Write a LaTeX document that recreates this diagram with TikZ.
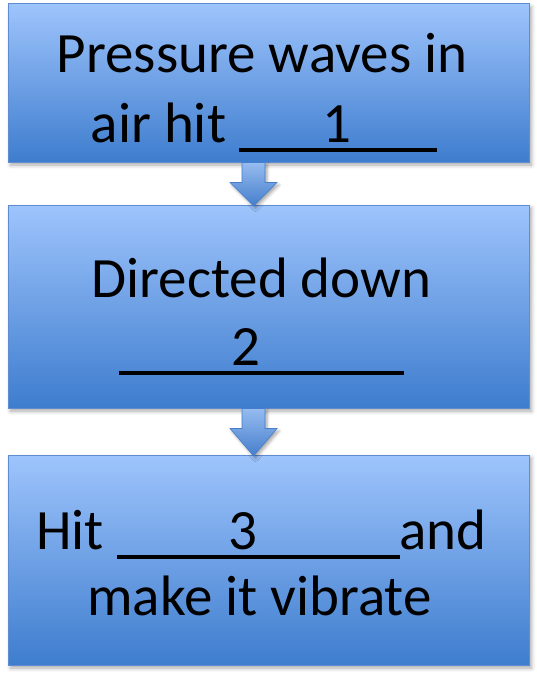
\documentclass[tikz,border=0pt]{standalone}
\usepackage{fontspec}
\setmainfont{Carlito}
\usetikzlibrary{calc,shadows.blur}
\definecolor{boxtop}{RGB}{158,196,252}
\definecolor{boxbot}{RGB}{62,125,206}
\definecolor{boxline}{RGB}{96,140,212}
\definecolor{arrtop}{RGB}{150,188,240}
\definecolor{arrbot}{RGB}{70,126,204}
\newcommand{\blk}[3]{\mbox{\rlap{\rule[-10pt]{\dimexpr#1pt+#3pt+29pt\relax}{4.5pt}}\hspace{#1pt}\makebox[29pt]{#2}\hspace{#3pt}}}
\tikzset{
  stepbox/.style={rectangle, draw=boxline, line width=1pt, top color=boxtop, bottom color=boxbot,
    minimum width=521pt, inner sep=0pt,
    blur shadow={shadow xshift=2.5pt, shadow yshift=-3pt, shadow blur radius=4pt, shadow opacity=35}},
  boxtext/.style={anchor=base, inner sep=0pt, font=\fontsize{57pt}{68pt}\selectfont},
  blockarrow/.style={draw=arrbot, line width=0.6pt, top color=arrtop, bottom color=arrbot,
    blur shadow={shadow xshift=2pt, shadow yshift=-2.5pt, shadow blur radius=3pt, shadow opacity=35}}
}
\begin{document}
\begin{tikzpicture}[x=1pt,y=1pt]
\useasboundingbox (0,0) rectangle (537,-677);
\node[stepbox, minimum height=158pt] (b1) at (268.5,-83) {};
\node[stepbox, minimum height=203pt] (b2) at (268.5,-306.5) {};
\node[stepbox, minimum height=210pt] (b3) at (268.5,-560) {};
% arrows
\foreach \u/\l in {b1/b2, b2/b3}{
  \path[blockarrow]
    ($(\u.south)+(-26.5,0)$) -- ($(\u.south)+(-26.5,-20)$) -- ($(\u.south)+(-38.5,-20)$)
    -- ($(\l.north)+(-15,-1.5)$) -- ($(\u.south)+(8.5,-20)$) -- ($(\u.south)+(-3.5,-20)$)
    -- ($(\u.south)+(-3.5,0)$) -- cycle;
}
% texts
\node[boxtext] (t1a) at (262,-72) {Pressure waves in};
\node[boxtext] (t1b) at (264,-142) {air hit \blk{83}{1}{86}};
\node[boxtext] (t2a) at (261.5,-297) {Directed down};
\node[boxtext] (t2b) at (261,-365) {\blk{113}{2}{143}};
\node[boxtext] (t3a) at (261.5,-549) {Hit \blk{112}{3}{142}and};
\node[boxtext] (t3b) at (259.5,-615) {make it vibrate};
\end{tikzpicture}
\end{document}
